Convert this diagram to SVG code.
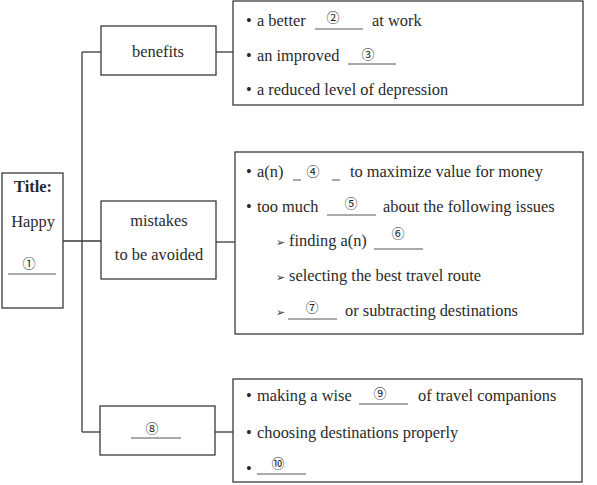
<svg xmlns="http://www.w3.org/2000/svg" width="597" height="485" viewBox="0 0 597 485">
<style>
.box{fill:#fff;stroke:#3a3a3a;stroke-width:1.3}
.ln{fill:none;stroke:#3a3a3a;stroke-width:1.3}
.t{font-family:"Liberation Serif","Times New Roman",serif;font-size:16.4px;fill:#2a2a2a}
.c{text-anchor:middle}
.n{font-family:"Noto Sans CJK SC","DejaVu Sans",sans-serif;font-size:13px;fill:#222;text-anchor:middle}
.u{stroke:#555;stroke-width:1}
.ar{font-family:"DejaVu Sans",sans-serif;font-size:11px;fill:#333}
</style>
<rect width="597" height="485" fill="#fff"/>
<g id="connectors">
<path class="ln" d="M63 241H101"/>
<path class="ln" d="M82 52V432"/>
<path class="ln" d="M82 52H101"/>
<path class="ln" d="M82 432H100"/>
<path class="ln" d="M216 52H233"/>
<path class="ln" d="M216 242H235"/>
<path class="ln" d="M215 432H233"/>
</g>
<g id="title">
<rect class="box" x="2" y="173" width="61" height="135"/>
<text class="t c" x="33" y="192" font-weight="bold">Title:</text>
<text class="t c" x="33" y="227">Happy</text>
<line class="u" x1="8" y1="274" x2="56" y2="274"/>
<text class="n" x="29" y="268">①</text>
</g>
<g id="benefits">
<rect class="box" x="101" y="26" width="115" height="49"/>
<text class="t c" x="158" y="57">benefits</text>
</g>
<g id="mistakes">
<rect class="box" x="101" y="201" width="115" height="78"/>
<text class="t c" x="159" y="226">mistakes</text>
<text class="t c" x="159" y="260">to be avoided</text>
</g>
<g id="blank8">
<rect class="box" x="100" y="406" width="115" height="49"/>
<line class="u" x1="131" y1="438" x2="181" y2="438"/>
<text class="n" x="152" y="433">⑧</text>
</g>
<g id="benefits-list">
<rect class="box" x="233" y="1" width="350" height="104"/>
<text class="t" x="246" y="26">•</text>
<text class="t" x="257" y="26">a better</text>
<line class="u" x1="315" y1="29" x2="363" y2="29"/>
<text class="n" x="333" y="22">②</text>
<text class="t" x="372" y="26">at work</text>
<text class="t" x="246" y="61">•</text>
<text class="t" x="257" y="61">an improved</text>
<line class="u" x1="348" y1="64" x2="396" y2="64"/>
<text class="n" x="368" y="59">③</text>
<text class="t" x="246" y="95">•</text>
<text class="t" x="257" y="95">a reduced level of depression</text>
</g>
<g id="mistakes-list">
<rect class="box" x="235" y="152" width="348" height="182"/>
<text class="t" x="246" y="177">•</text>
<text class="t" x="257" y="177">a(n)</text>
<line class="u" x1="293" y1="180" x2="301" y2="180"/>
<text class="n" x="313" y="176">④</text>
<line class="u" x1="332" y1="180" x2="340" y2="180"/>
<text class="t" x="350" y="177">to maximize value for money</text>
<text class="t" x="246" y="212">•</text>
<text class="t" x="257" y="212">too much</text>
<line class="u" x1="327" y1="215" x2="376" y2="215"/>
<text class="n" x="351" y="208">⑤</text>
<text class="t" x="383" y="212">about the following issues</text>
<text class="ar" x="276" y="246">➢</text>
<text class="t" x="289" y="246">finding a(n)</text>
<line class="u" x1="374" y1="249" x2="423" y2="249"/>
<text class="n" x="398" y="238">⑥</text>
<text class="ar" x="276" y="281">➢</text>
<text class="t" x="289" y="281">selecting the best travel route</text>
<text class="ar" x="276" y="316">➢</text>
<line class="u" x1="288" y1="319" x2="337" y2="319"/>
<text class="n" x="312" y="312">⑦</text>
<text class="t" x="345" y="316">or subtracting destinations</text>
</g>
<g id="blank8-list">
<rect class="box" x="233" y="379" width="349" height="103"/>
<text class="t" x="246" y="401">•</text>
<text class="t" x="257" y="401">making a wise</text>
<line class="u" x1="359" y1="404" x2="408" y2="404"/>
<text class="n" x="380" y="398">⑨</text>
<text class="t" x="418" y="401">of travel companions</text>
<text class="t" x="246" y="438">•</text>
<text class="t" x="257" y="438">choosing destinations properly</text>
<text class="t" x="246" y="474">•</text>
<line class="u" x1="257" y1="474" x2="306" y2="474"/>
<text class="n" x="278" y="468">⑩</text>
</g>
</svg>
